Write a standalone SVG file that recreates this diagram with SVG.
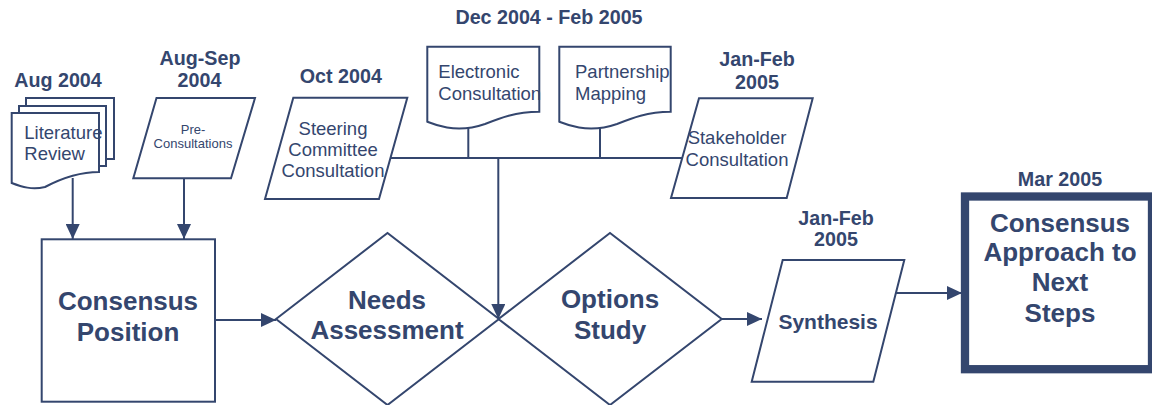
<svg xmlns="http://www.w3.org/2000/svg" width="1152" height="405" viewBox="0 0 1152 405">
<style>
.s{fill:#fff;stroke:#34466e;stroke-width:2}
.c{fill:none;stroke:#34466e;stroke-width:2}
.t{font-family:"Liberation Sans",Arial,sans-serif;fill:#34466e}
.r{font-size:18.5px}
.d{font-size:19.7px;font-weight:bold;text-anchor:middle}
.b{font-size:26px;font-weight:bold;text-anchor:middle}
.m{text-anchor:middle}
</style>
<defs>
<marker id="ah" viewBox="0 0 15 14" refX="15" refY="7" markerWidth="15" markerHeight="14" markerUnits="userSpaceOnUse" orient="auto">
<path d="M0,0 L15,7 L0,14 Z" fill="#34466e"/>
</marker>
</defs>
<rect width="1152" height="405" fill="#fff"/>

<g id="connectors">
<line class="c" x1="72.7" y1="178" x2="72.7" y2="239" marker-end="url(#ah)"/>
<line class="c" x1="184" y1="178" x2="184" y2="239" marker-end="url(#ah)"/>
<line class="c" x1="388" y1="158" x2="682.5" y2="158"/>
<line class="c" x1="468.3" y1="128" x2="468.3" y2="158"/>
<line class="c" x1="600" y1="126" x2="600" y2="158"/>
<line class="c" x1="498.3" y1="158" x2="498.3" y2="319" marker-end="url(#ah)"/>
<line class="c" x1="215" y1="320" x2="276" y2="320" marker-end="url(#ah)"/>
<line class="c" x1="722" y1="319" x2="762" y2="319" marker-end="url(#ah)"/>
<line class="c" x1="896" y1="293" x2="962" y2="293" marker-end="url(#ah)"/>
</g>

<g id="literature-review">
<text class="t d" x="58" y="87">Aug 2004</text>
<rect class="s" x="26" y="98" width="88" height="61"/>
<rect class="s" x="19" y="106" width="87" height="60"/>
<path class="s" d="M11.7,113 H99 V172 C80,172 62,178 45,187 C32,190 22,187 11.7,183 Z"/>
<text class="t r" x="24.3" y="139">Literature</text>
<text class="t r" x="24.3" y="160">Review</text>
</g>

<g id="pre-consultations">
<text class="t d" x="200" y="65">Aug-Sep</text>
<text class="t d" x="199.5" y="86.7">2004</text>
<path class="s" d="M156.5,98 H255 L231,178.3 H133.3 Z"/>
<text class="t m" font-size="13" x="193" y="134">Pre-</text>
<text class="t m" font-size="13" x="193" y="148.3">Consultations</text>
</g>

<g id="steering">
<text class="t d" x="340.8" y="83.3">Oct 2004</text>
<path class="s" d="M293.3,97.7 H407.3 L379,199 H265 Z"/>
<text class="t r m" x="333" y="135">Steering</text>
<text class="t r m" x="333" y="156">Committee</text>
<text class="t r m" x="333" y="176.7">Consultation</text>
</g>

<text class="t d" x="549" y="24">Dec 2004 - Feb 2005</text>

<g id="electronic">
<path class="s" d="M427.3,46.7 H539.3 V111.7 C515,112 500,118 485,124 C472,128.5 458,129.5 447,127.5 C439,126 433,124 427.3,121.7 Z"/>
<text class="t r" x="438.3" y="78.3">Electronic</text>
<text class="t r" x="438.3" y="100">Consultation</text>
</g>

<g id="partnership">
<path class="s" d="M559.3,46.7 H670.7 V111.7 C647,112 632,118 617,124 C604,128.5 590,129.5 579,127.5 C571,126 565,124 559.3,121.7 Z"/>
<text class="t r" x="575" y="78">Partnership</text>
<text class="t r" x="575" y="100">Mapping</text>
</g>

<g id="stakeholder">
<text class="t d" x="757" y="66">Jan-Feb</text>
<text class="t d" x="757" y="89">2005</text>
<path class="s" d="M699,98.3 H812.7 L786.7,198 H671 Z"/>
<text class="t r m" x="737" y="144">Stakeholder</text>
<text class="t r m" x="737" y="166">Consultation</text>
</g>

<g id="consensus-position">
<rect class="s" x="41.7" y="239.3" width="173.3" height="162.4"/>
<text class="t b" x="128" y="310">Consensus</text>
<text class="t b" x="128" y="340.7">Position</text>
</g>

<g id="needs-assessment">
<path class="s" d="M276,319 L387.5,233 L499,319 L387.5,405 Z"/>
<text class="t b" x="387" y="309.3">Needs</text>
<text class="t b" x="387" y="339.3">Assessment</text>
</g>

<g id="options-study">
<path class="s" d="M498.5,319 L610,233 L721.7,319 L610,405 Z"/>
<text class="t b" x="610" y="308.3">Options</text>
<text class="t b" x="610" y="339.3">Study</text>
</g>

<g id="synthesis">
<text class="t d" x="836" y="225">Jan-Feb</text>
<text class="t d" x="836" y="246">2005</text>
<path class="s" d="M782.7,260 H904.3 L873.3,381.7 H751.7 Z"/>
<text class="t" font-size="21" font-weight="bold" text-anchor="middle" x="828" y="329.3">Synthesis</text>
</g>

<g id="consensus-approach">
<text class="t d" x="1060" y="186">Mar 2005</text>
<rect x="965" y="196.5" width="187" height="172.7" fill="#fff" stroke="#34466e" stroke-width="8.3"/>
<text class="t b" x="1060" y="231.7">Consensus</text>
<text class="t b" x="1060" y="261">Approach to</text>
<text class="t b" x="1060" y="291">Next</text>
<text class="t b" x="1060" y="321.7">Steps</text>
</g>
</svg>
